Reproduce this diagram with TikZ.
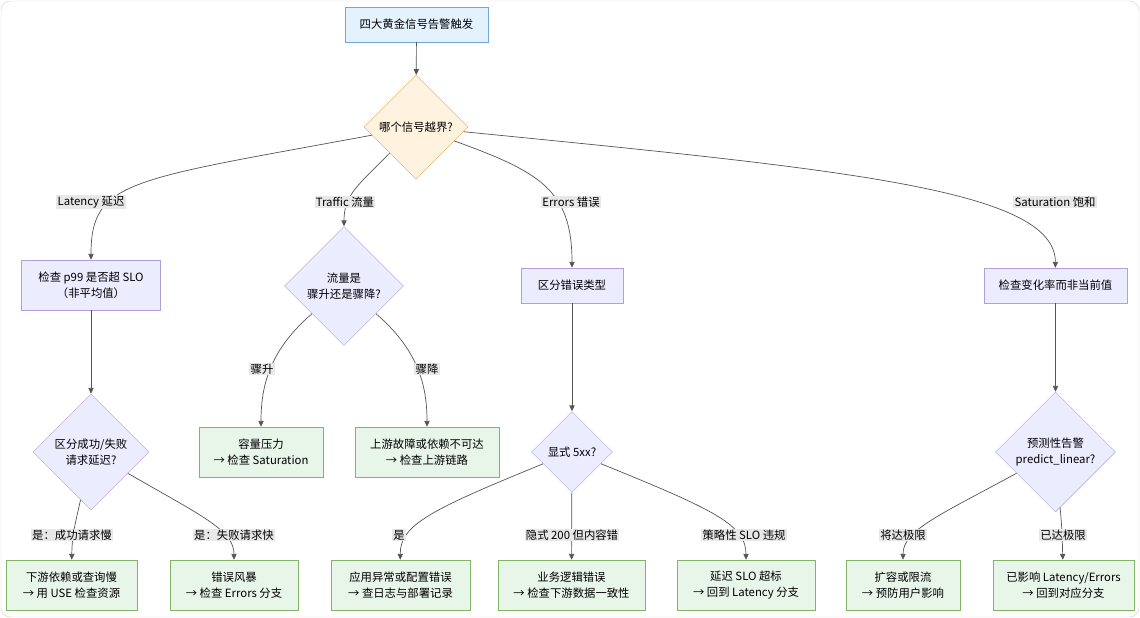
\documentclass[tikz,border=0pt]{standalone}
\usepackage{fontspec}
\setmainfont{Noto Sans CJK SC}
\usetikzlibrary{shapes.geometric,arrows.meta}
\definecolor{startfill}{HTML}{E3F2FD}
\definecolor{startline}{HTML}{6FA8DC}
\definecolor{askfill}{HTML}{FFF3E0}
\definecolor{askline}{HTML}{F0A050}
\definecolor{stepfill}{HTML}{ECECFF}
\definecolor{stepline}{HTML}{B39DDB}
\definecolor{endfill}{HTML}{E8F5E9}
\definecolor{endline}{HTML}{82B366}
\definecolor{wire}{HTML}{555555}
\definecolor{labelbg}{HTML}{E8E8E8}
\definecolor{framegray}{HTML}{D4D4D4}
\begin{document}
\begin{tikzpicture}[x=0.03cm,y=-0.03cm,
  font=\fontsize{9.7}{13.3}\selectfont,
  startbox/.style={draw=startline,fill=startfill,align=center,minimum width=4.29cm,minimum height=1.05cm},
  askdiam/.style={draw=askline,fill=askfill,diamond,aspect=1,inner sep=0pt,align=center},
  stepbox/.style={draw=stepline,fill=stepfill,align=center,minimum height=1.05cm},
  stepdiam/.style={draw=stepline,fill=stepfill,diamond,aspect=1,inner sep=0pt,align=center},
  endbox/.style={draw=endline,fill=endfill,align=center,minimum height=1.5cm},
  arr/.style={-{Triangle[length=5pt,width=4.5pt]},draw=wire,line width=0.6pt},
  elab/.style={fill=labelbg,inner sep=1pt}]
\useasboundingbox (0,0) rectangle (1140,618);
\draw[framegray,rounded corners=8] (1,1) rectangle (1139,617);

\node (top) at (416.5,24.5) [startbox] {四大黄金信号告警触发};
\node (q) at (416,127) [askdiam,minimum width=3.12cm,minimum height=3.12cm] {哪个信号越界?};

\node (lat) at (91,285) [stepbox,minimum width=4.17cm,minimum height=1.5cm] {检查 p99 是否超 SLO\\（非平均值）};
\node (tq) at (344,286) [stepdiam,minimum width=3.57cm,minimum height=3.57cm] {流量是\\骤升还是骤降?};
\node (err) at (572,285.5) [stepbox,minimum width=3.06cm] {区分错误类型};
\node (sat) at (1055.5,285.5) [stepbox,minimum width=4.29cm] {检查变化率而非当前值};

\node (lq) at (91,452) [stepdiam,minimum width=3.48cm,minimum height=3.48cm] {区分成功/失败\\请求延迟?};
\node (up) at (261,452) [endbox,minimum width=3.72cm] {容量压力\\→ 检查 Saturation};
\node (dn) at (427,452) [endbox,minimum width=4.32cm] {上游故障或依赖不可达\\→ 检查上游链路};
\node (xq) at (572,452) [stepdiam,minimum width=2.43cm,minimum height=2.43cm] {显式 5xx?};
\node (pq) at (1055.5,452) [stepdiam,minimum width=3.6cm,minimum height=3.6cm] {预测性告警\\predict\_linear?};

\node (l1) at (71.5,585) [endbox,minimum width=3.93cm] {下游依赖或查询慢\\→ 用 USE 检查资源};
\node (l2) at (234,585) [endbox,minimum width=3.84cm] {错误风暴\\→ 检查 Errors 分支};
\node (e1) at (400.5,585) [endbox,minimum width=4.17cm] {应用异常或配置错误\\→ 查日志与部署记录};
\node (e2) at (571.5,585) [endbox,minimum width=4.41cm] {业务逻辑错误\\→ 检查下游数据一致性};
\node (e3) at (746,585) [endbox,minimum width=4.14cm] {延迟 SLO 超标\\→ 回到 Latency 分支};
\node (s1) at (903,585) [endbox,minimum width=3.42cm] {扩容或限流\\→ 预防用户影响};
\node (s2) at (1063.5,585) [endbox,minimum width=4.23cm] {已影响 Latency/Errors\\→ 回到对应分支};

\draw[arr] (top) -- (q);
\draw[arr] (q) .. controls (130,180) and (91,180) .. (lat);
\draw[arr] (q) .. controls (358,185) and (344,195) .. (tq);
\draw[arr] (q) .. controls (540,172) and (572,190) .. (err);
\draw[arr] (q) .. controls (850,170) and (1055,190) .. (sat);
\draw[arr] (lat) -- (lq);
\draw[arr] (tq) .. controls (270,350) and (261,385) .. (up);
\draw[arr] (tq) .. controls (418,350) and (427,385) .. (dn);
\draw[arr] (err) -- (xq);
\draw[arr] (sat) -- (pq);
\draw[arr] (lq) .. controls (75,525) and (72,535) .. (l1);
\draw[arr] (lq) .. controls (200,515) and (234,530) .. (l2);
\draw[arr] (xq) .. controls (430,510) and (400,525) .. (e1);
\draw[arr] (xq) -- (e2);
\draw[arr] (xq) .. controls (715,510) and (746,525) .. (e3);
\draw[arr] (pq) .. controls (940,515) and (903,530) .. (s1);
\draw[arr] (pq) .. controls (1062,530) .. (s2);

\node (tLat) at (91,202) [elab] {Latency 延迟};
\node (tTra) at (345,202) [elab] {Traffic 流量};
\node (tErr) at (571,202) [elab] {Errors 错误};
\node (tSat) at (1055,202) [elab] {Saturation 饱和};
\node (tUp) at (262,369) [elab] {骤升};
\node (tDn) at (427,369) [elab] {骤降};
\node (tL1) at (72,535) [elab] {是：成功请求慢};
\node (tL2) at (234,535) [elab] {是：失败请求快};
\node (tE1) at (399,535) [elab] {是};
\node (tE2) at (572,535) [elab] {隐式 200 但内容错};
\node (tE3) at (744,535) [elab] {策略性 SLO 违规};
\node (tS1) at (903,535) [elab] {将达极限};
\node (tS2) at (1063,535) [elab] {已达极限};
\end{tikzpicture}
\end{document}
